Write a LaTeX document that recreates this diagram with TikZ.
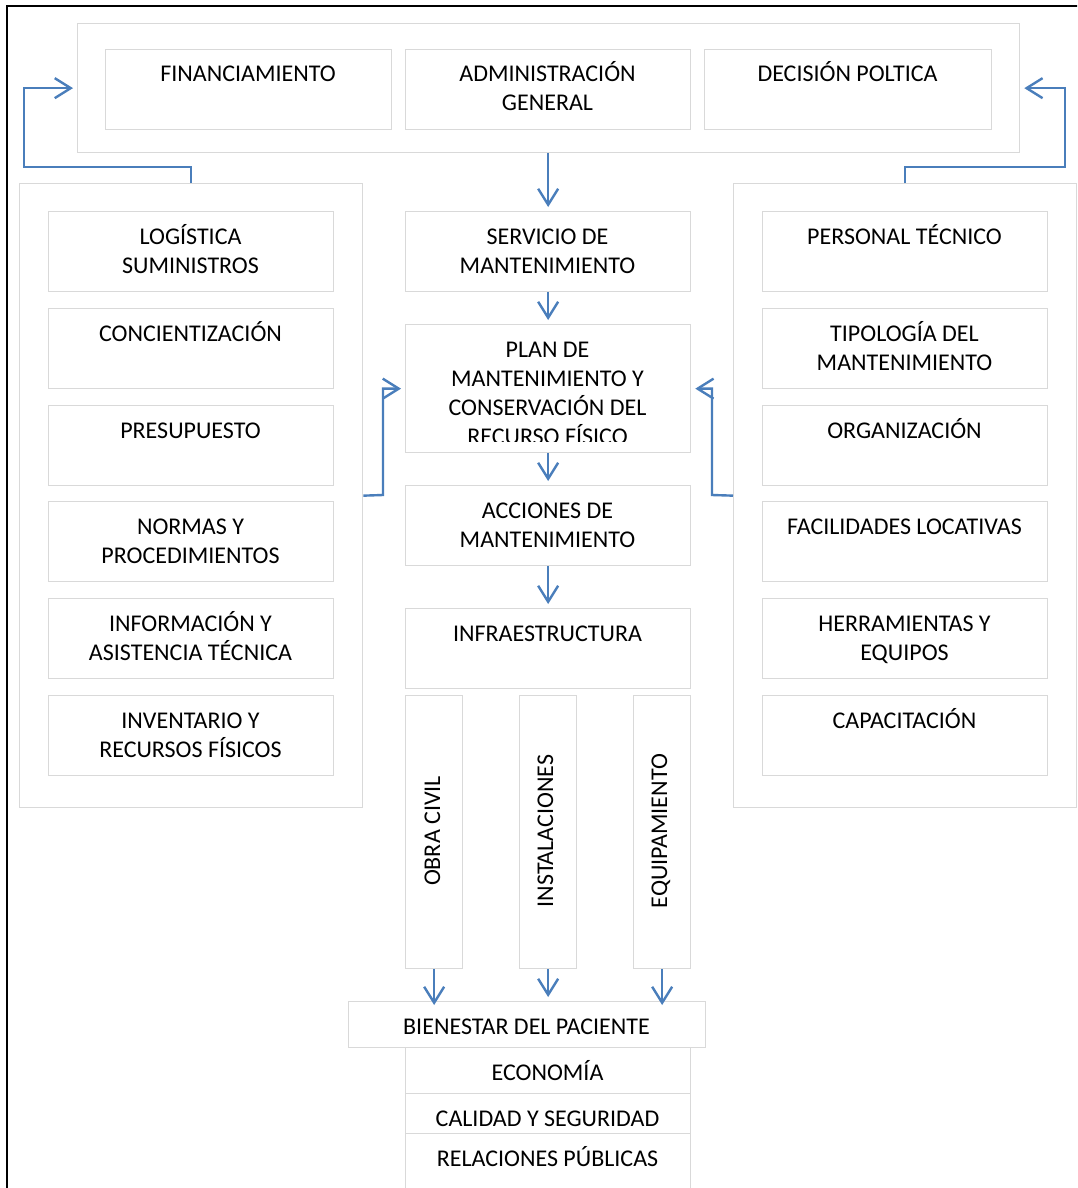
\documentclass[tikz,border=0pt]{standalone}
\usepackage{fontspec}
\setmainfont{Carlito}
\usetikzlibrary{arrows.meta}
\definecolor{boxgray}{HTML}{D9D9D9}
\definecolor{arrblue}{HTML}{4A7EBB}
\newcommand\ml[1]{\begin{tabular}[t]{@{}c@{}}#1\end{tabular}}
\newcommand\Bx[5]{\node[bx, anchor=north west, minimum width={(#4)-(#2)}, minimum height={(#5)-(#3)}] (#1) at (#2,#3) {};}
\begin{document}
\begin{tikzpicture}[x=1pt, y=-1pt,
  bx/.style={draw=boxgray, line width=1.3pt, inner sep=0pt},
  txt/.style={font=\fontsize{24}{29}\selectfont, inner sep=0pt, text=black, anchor=base},
  arr/.style={draw=arrblue, line width=2.4pt, -{Straight Barb[length=16pt,width=20pt]}}]
\clip (0,0) rectangle (1077,1188);
% outer black frame (partly visible)
\draw[black, line width=2pt] (7,1195) -- (7,6) -- (1085,6);
% top group
\Bx{top}{77}{23}{1019}{152}
\Bx{fin}{105}{49}{391}{129}
\Bx{adm}{405}{49}{690}{129}
\Bx{dec}{704}{49}{991}{129}
% side containers
\Bx{lc}{19}{183}{362}{807}
\Bx{rc}{733}{183}{1076}{807}
% left boxes
\Bx{l1}{48}{211}{333}{291}
\Bx{l2}{48}{308}{333}{388}
\Bx{l3}{48}{405}{333}{485}
\Bx{l4}{48}{501}{333}{581}
\Bx{l5}{48}{598}{333}{678}
\Bx{l6}{48}{695}{333}{775}
% right boxes
\Bx{r1}{762}{211}{1047}{291}
\Bx{r2}{762}{308}{1047}{388}
\Bx{r3}{762}{405}{1047}{485}
\Bx{r4}{762}{501}{1047}{581}
\Bx{r5}{762}{598}{1047}{678}
\Bx{r6}{762}{695}{1047}{775}
% centre column
\Bx{ser}{405}{211}{690}{291}
\Bx{plan}{405}{324}{690}{452}
\Bx{acc}{405}{485}{690}{565}
\Bx{inf}{405}{608}{690}{688}
\Bx{obra}{405}{695}{462}{968}
\Bx{inst}{519}{695}{576}{968}
\Bx{equi}{633}{695}{690}{968}
\Bx{bien}{348}{1001}{705}{1047}
\Bx{eco}{405}{1047}{690}{1093}
\Bx{cal}{405}{1093}{690}{1133}
\Bx{rel}{405}{1133}{690}{1200}
% texts
\node[txt] (tfin) at (248,82) {FINANCIAMIENTO};
\node[txt] (tadm) at (547.5,82) {\ml{ADMINISTRACIÓN\\GENERAL}};
\node[txt] (tdec) at (847.5,82) {DECISIÓN POLTICA};
\node[txt] (tl1) at (190.5,244) {\ml{LOGÍSTICA\\SUMINISTROS}};
\node[txt] (tl2) at (190.5,341) {CONCIENTIZACIÓN};
\node[txt] (tl3) at (190.5,438) {PRESUPUESTO};
\node[txt] (tl4) at (190.5,534) {\ml{NORMAS Y\\PROCEDIMIENTOS}};
\node[txt] (tl5) at (190.5,631) {\ml{INFORMACIÓN Y\\ASISTENCIA TÉCNICA}};
\node[txt] (tl6) at (190.5,728) {\ml{INVENTARIO Y\\RECURSOS FÍSICOS}};
\node[txt] (tr1) at (904.5,244) {PERSONAL TÉCNICO};
\node[txt] (tr2) at (904.5,341) {\ml{TIPOLOGÍA DEL\\MANTENIMIENTO}};
\node[txt] (tr3) at (904.5,438) {ORGANIZACIÓN};
\node[txt] (tr4) at (904.5,534) {FACILIDADES LOCATIVAS};
\node[txt] (tr5) at (904.5,631) {\ml{HERRAMIENTAS Y\\EQUIPOS}};
\node[txt] (tr6) at (904.5,728) {CAPACITACIÓN};
\node[txt] (tser) at (547.5,244) {\ml{SERVICIO DE\\MANTENIMIENTO}};
\begin{scope}
\clip (405,324) rectangle (690,441);
\node[txt] (tplan) at (547.5,357) {\ml{PLAN DE\\MANTENIMIENTO Y\\CONSERVACIÓN DEL\\RECURSO FÍSICO}};
\end{scope}
\node[txt] (tacc) at (547.5,518) {\ml{ACCIONES DE\\MANTENIMIENTO}};
\node[txt] (tinf) at (547.5,641) {INFRAESTRUCTURA};
\node[txt, rotate=90] (tobra) at (440,831) {OBRA CIVIL};
\node[txt, rotate=90] (tinst) at (553,831) {INSTALACIONES};
\node[txt, rotate=90] (tequi) at (667,831) {EQUIPAMIENTO};
\node[txt] (tbien) at (526.5,1034) {BIENESTAR DEL PACIENTE};
\node[txt] (teco) at (547.5,1080) {ECONOMÍA};
\node[txt] (tcal) at (547.5,1126) {CALIDAD Y SEGURIDAD};
\node[txt] (trel) at (547.5,1166) {RELACIONES PÚBLICAS};
% connectors
\draw[arr, shorten >=4pt] (lc.north) |- (24,167) |- (top.west);
\draw[arr, shorten >=4pt] (rc.north) |- (1065,167) |- (top.east);
\draw[arr, shorten >=4pt] (lc.east) -- (383,495) |- (plan.west);
\draw[arr, shorten >=4pt] (rc.west) -- (712,495) |- (plan.east);
\draw[arr, shorten >=4pt] (ser.north |- top.south) -- (ser.north);
\draw[arr, shorten >=4pt] (ser) -- (plan);
\draw[arr, shorten >=4pt] (plan) -- (acc);
\draw[arr, shorten >=4pt] (acc) -- (inf);
\draw[arr, shorten >=-4pt] (obra.south) -- (obra.south |- bien.north);
\draw[arr, shorten >=4pt] (inst.south) -- (inst.south |- bien.north);
\draw[arr, shorten >=-4pt] (equi.south) -- (equi.south |- bien.north);
\end{tikzpicture}
\end{document}
